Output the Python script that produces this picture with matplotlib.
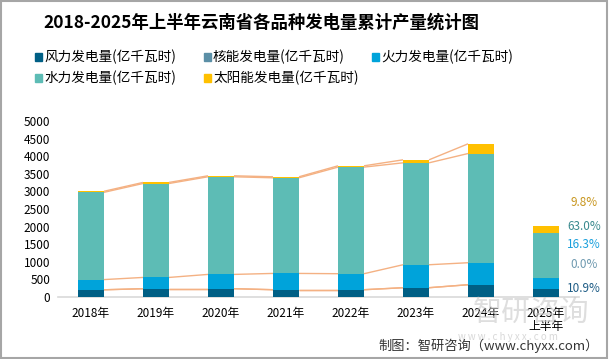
import matplotlib
matplotlib.use("Agg")
import matplotlib.pyplot as plt
from matplotlib.patches import Rectangle
import numpy as np

plt.rcParams['font.family'] = ['Noto Sans CJK SC', 'DejaVu Sans']

categories = ["2018年", "2019年", "2020年", "2021年", "2022年", "2023年", "2024年", "2025年\n上半年"]
wind = [205, 236, 236, 207, 207, 264, 349, 221]
nuclear = [0, 0, 0, 0, 0, 0, 0, 0]
thermal = [290, 320, 406, 463, 455, 653, 625, 330]
hydro = [2480, 2670, 2775, 2718, 3030, 2897, 3104, 1276]
solar = [30, 30, 28, 29, 37, 85, 276, 198]
series_names = ["风力发电量(亿千瓦时)", "核能发电量(亿千瓦时)", "火力发电量(亿千瓦时)",
                "水力发电量(亿千瓦时)", "太阳能发电量(亿千瓦时)"]
share_labels = ["9.8%", "63.0%", "16.3%", "0.0%", "10.9%"]
yticks = [0, 500, 1000, 1500, 2000, 2500, 3000, 3500, 4000, 4500, 5000]

colors = ["#005F85", "#5B8FA6", "#00A3DA", "#5DBCB5", "#FFC000"]
label_colors = ["#C8961E", "#3A8A8E", "#1AA0DC", "#6F9AB0", "#1F5D86"]

fig = plt.figure(figsize=(6.09, 3.59), dpi=100)
ax = fig.add_axes([0.096, 0.1727, 0.854, 0.490])

series = [wind, nuclear, thermal, hydro, solar]
x = np.arange(len(categories))
w = 0.4
bottom = np.zeros(len(categories))
levels = []
for vals, c in zip(series, colors):
    v = np.array(vals, dtype=float)
    ax.bar(x, v, w, bottom=bottom, color=c, zorder=3)
    bottom = bottom + v
    levels.append(bottom.copy())

# series lines (2018..2024)
for lev in levels:
    for i in range(len(categories) - 2):
        ax.plot([x[i] + w / 2, x[i + 1] - w / 2], [lev[i], lev[i + 1]],
                color="#F4B183", lw=1.0, zorder=2, solid_capstyle='butt')

ax.set_xlim(-0.5, len(categories) - 0.5)
ax.set_ylim(0, 5000)
ax.set_yticks(yticks)
ax.set_yticklabels([str(t) for t in yticks], fontsize=8.5)
ax.set_xticks(x)
ax.set_xticklabels(categories, fontsize=8.5, linespacing=1.0)
ax.tick_params(axis='both', length=0, colors='black')
ax.tick_params(axis='x', pad=7)
ax.tick_params(axis='y', pad=6)
for s in ['top', 'right', 'left']:
    ax.spines[s].set_visible(False)
ax.spines['bottom'].set_color('#D9D9D9')
ax.spines['bottom'].set_linewidth(1.2)

# share labels (right side)
label_y = [202, 226, 244, 265, 288]
for txt, yy, c in zip(share_labels, label_y, label_colors):
    fig.text(584 / 609, 1 - yy / 359, txt, color=c, fontsize=8.5,
             ha='center', va='center')

# title
fig.text(261 / 609, 1 - 23 / 359, "2018-2025年上半年云南省各品种发电量累计产量统计图",
         fontsize=12.5, fontweight='bold', ha='center', va='center')

# legend (manual)
leg_x = [35, 204, 372, 35, 204]
leg_y = [57, 57, 57, 78, 78]
for name, c, lx, ly in zip(series_names, colors, leg_x, leg_y):
    fig.patches.append(Rectangle((lx / 609, 1 - (ly + 3.5) / 359), 7 / 609, 7 / 359,
                                 transform=fig.transFigure, color=c, figure=fig))
    fig.text((lx + 9) / 609, 1 - ly / 359, name, fontsize=9.8, ha='left', va='center')

# watermark
fig.text(531 / 609, 1 - 313 / 359, "智研咨询", fontsize=21, color='#C8C8C8',
         ha='center', va='center', alpha=0.6, zorder=0)
fig.text(508 / 609, 1 - 337 / 359, "w w w . c h y x x . c o m", fontsize=7,
         color='#C8C8C8', ha='center', va='center', alpha=0.7, zorder=0)

# source
fig.text(599 / 609, 1 - 346 / 359, "制图：智研咨询（www.chyxx.com）", fontsize=9.5,
         color='#333333', ha='right', va='center')

# border
fig.patches.append(Rectangle((0.001, 0.002), 0.996, 0.995, transform=fig.transFigure,
                             fill=False, edgecolor='#A6A6A6', lw=1.5, figure=fig))

fig.savefig("out.png", dpi=100)
